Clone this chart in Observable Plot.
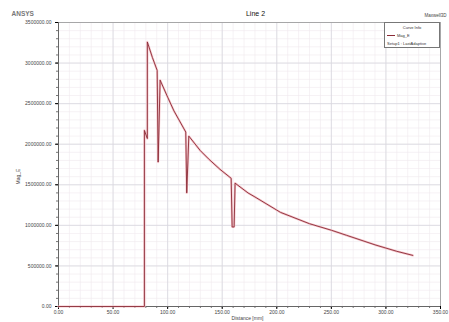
<!DOCTYPE html>
<html>
<head>
<meta charset="utf-8">
<script src="https://cdn.jsdelivr.net/npm/d3@7"></script>
<script src="https://cdn.jsdelivr.net/npm/@observablehq/plot@0.6"></script>
<style>
  html, body { margin: 0; padding: 0; background: #fff; }
  #wrap { position: relative; width: 449px; height: 322px; font-family: "Liberation Sans", Arial, sans-serif; }
  #legend { position: absolute; left: 384px; top: 22px; width: 56px; height: 26px; border: 1px solid #777; background: #fff; font-size: 4px; color: #333; box-sizing: border-box; }
  #legend div { position: absolute; white-space: nowrap; }
</style>
</head>
<body>
<div id="wrap"></div>
<script>
// Data (Distance [mm] vs Mag_E)
const distance = [0, 78.7, 78.7, 81.4, 81.4, 86, 90.4, 91.3, 93.1, 100, 105.8, 116.6, 117.5, 119.4, 130, 137.4, 148, 158.2, 159.1, 160.9, 161.8, 173.6, 180, 203.4, 230, 250, 264, 290, 310, 324.6];
const magE =     [0, 0, 2170000, 2070000, 3260000, 3070000, 2910000, 1780000, 2790000, 2580000, 2410000, 2150000, 1400000, 2100000, 1920000, 1820000, 1690000, 1580000, 980000, 980000, 1520000, 1400000, 1350000, 1160000, 1020000, 940000, 877000, 760000, 680000, 630000];
const xTicks = [0, 50, 100, 150, 200, 250, 300, 350];
const yTicks = [0, 500000, 1000000, 1500000, 2000000, 2500000, 3000000, 3500000];
const xMinor = d3.range(0, 351, 10);
const yMinor = d3.range(0, 3500001, 100000);
const titleText = "Line 2";
const logoText = "ANSYS";
const designText = "Maxwell3D";

const rows = distance.map((d, i) => ({x: d, y: magE[i]}));

const chart = Plot.plot({
  width: 449,
  height: 322,
  marginLeft: 58,
  marginRight: 9,
  marginTop: 22,
  marginBottom: 16,
  style: {fontFamily: "Liberation Sans, Arial, sans-serif", background: "#fff"},
  x: {domain: [0, 350], label: null},
  y: {domain: [0, 3500000], label: null},
  marks: [
    Plot.ruleX(xMinor, {stroke: "#f0eaee", strokeWidth: 0.6}),
    Plot.ruleY(yMinor, {stroke: "#f0eaee", strokeWidth: 0.6}),
    Plot.ruleX(xTicks, {stroke: "#d8d8de", strokeWidth: 0.8}),
    Plot.ruleY(yTicks, {stroke: "#d8d8de", strokeWidth: 0.8}),
    Plot.frame({stroke: "#999", strokeWidth: 0.8}),
    Plot.axisX({ticks: xMinor, tickSize: 2, tickFormat: () => "", stroke: "#777", label: null}),
    Plot.axisY({ticks: yMinor, tickSize: 2, tickFormat: () => "", stroke: "#777", label: null}),
    Plot.axisX({ticks: xTicks, tickSize: 3, tickPadding: 1, fontSize: 5, fill: "#444", tickFormat: d => d.toFixed(2), label: null}),
    Plot.axisY({ticks: yTicks, tickSize: 3, tickPadding: 4, fontSize: 5, fill: "#444", tickFormat: d => d.toFixed(2), label: null}),
    Plot.ruleX([0], {stroke: "#666", strokeWidth: 1}),
    Plot.ruleY([0], {stroke: "#666", strokeWidth: 1}),
    Plot.line(rows, {x: "x", y: "y", stroke: "#f4c4ca", strokeWidth: 2.2}),
    Plot.line(rows, {x: "x", y: "y", stroke: "#8a2a36", strokeWidth: 0.9}),
    Plot.text([titleText], {frameAnchor: "top", dy: -11, dx: 6, fontSize: 7, fill: "#111", textDecoration: "underline"}),
    Plot.text([logoText], {frameAnchor: "top-left", dx: -47, dy: -11, fontSize: 6.5, fontWeight: "bold", fill: "#777"}),
    Plot.text([designText], {frameAnchor: "top-right", dx: 6, dy: -9, fontSize: 4.5, fill: "#444", textAnchor: "end"}),
    Plot.text(["Distance [mm]"], {frameAnchor: "bottom", dy: 13, dx: -2, fontSize: 5, fill: "#444"}),
    Plot.text(["Mag_E"], {frameAnchor: "left", dx: -40, dy: 20, rotate: -90, fontSize: 5, fill: "#444"})
  ]
});

const wrap = document.getElementById("wrap");
wrap.appendChild(chart);

const legend = document.createElement("div");
legend.id = "legend";
legend.innerHTML =
  '<div style="left:0;width:54px;text-align:center;top:1.5px">Curve Info</div>' +
  '<div style="left:2px;top:10px;"><span style="display:inline-block;width:8px;border-top:1px solid #8a2a36;vertical-align:middle;margin-right:2px"></span>Mag_E</div>' +
  '<div style="left:2px;top:17.5px;">Setup1 : LastAdaptive</div>';
wrap.appendChild(legend);
</script>
</body>
</html>
